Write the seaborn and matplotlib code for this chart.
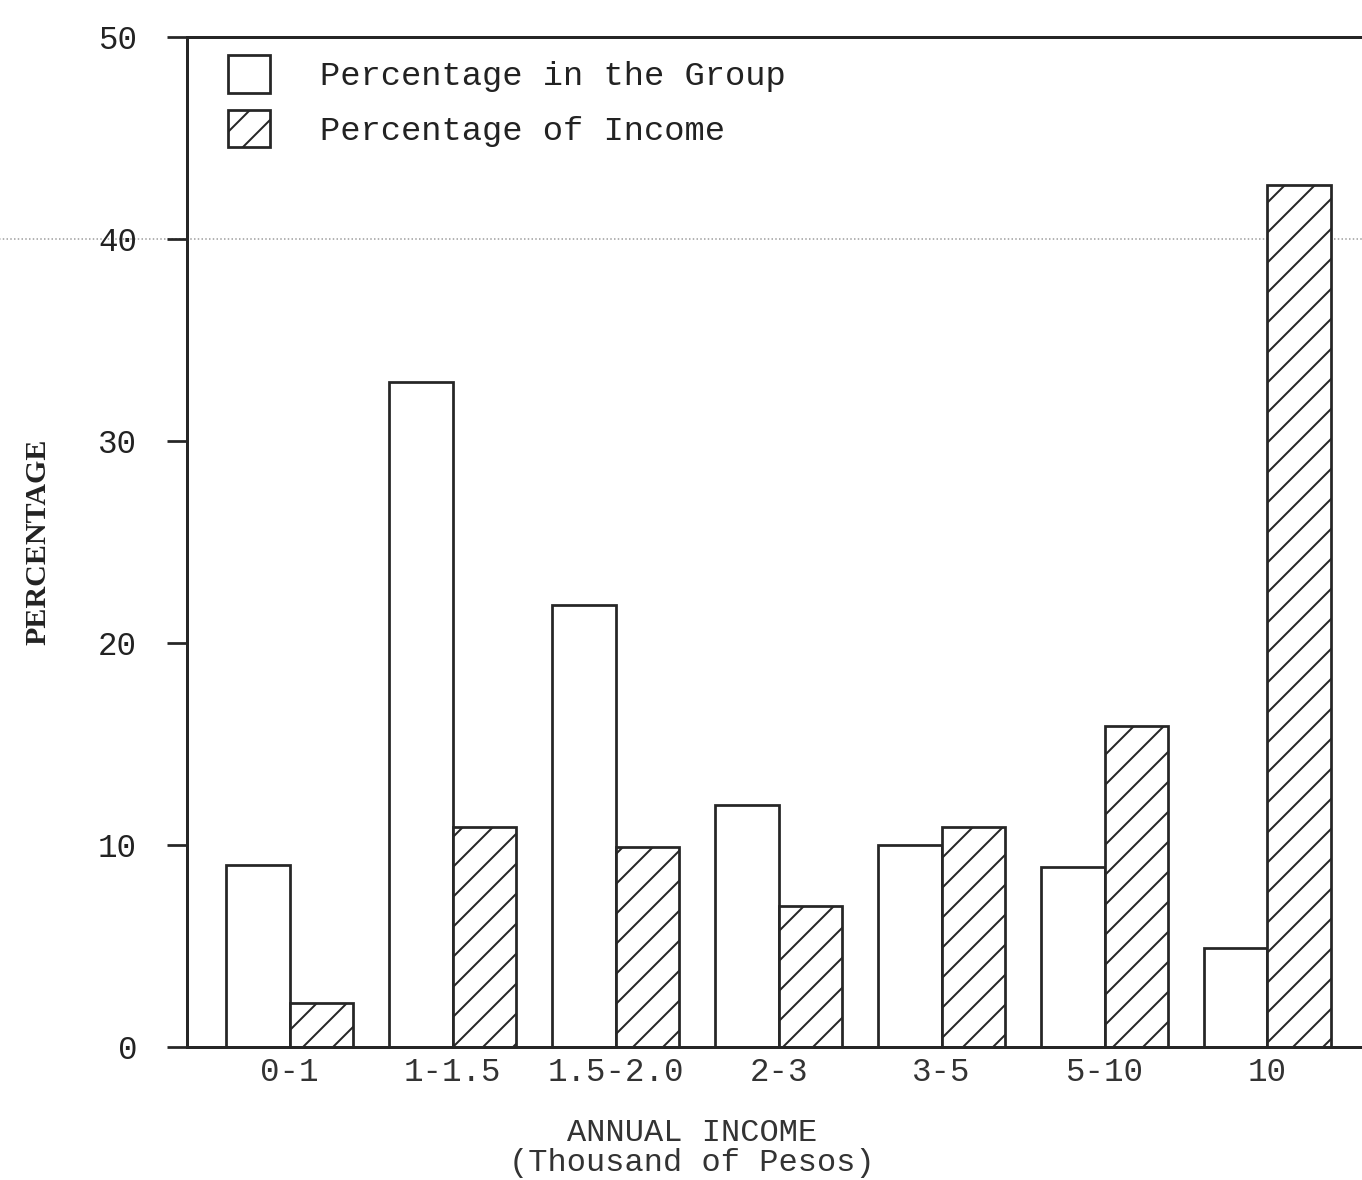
import matplotlib

matplotlib.use("Agg")

import matplotlib.pyplot as plt
import pandas as pd
import seaborn as sns
from matplotlib.patches import Patch

# ---- data -----------------------------------------------------------------
income_groups = ["0-1", "1-1.5", "1.5-2.0", "2-3", "3-5", "5-10", "10"]
pct_in_group = [9.0, 32.9, 21.9, 12.0, 10.0, 8.9, 4.9]
pct_of_income = [2.2, 10.9, 9.9, 7.0, 10.9, 15.9, 42.7]
series_names = ["Percentage in the Group", "Percentage of Income"]
y_ticks = [0, 10, 20, 30, 40, 50]

INK = "#262626"
MONO = "Liberation Mono"
DPI = 180  # hatch tile is one inch, so dpi sets the hatch spacing

sns.set_theme(style="white")
plt.rcParams["hatch.linewidth"] = 0.8
plt.rcParams["hatch.color"] = INK
plt.rcParams["font.family"] = [MONO, "DejaVu Sans"]

long = pd.DataFrame(
    {
        "group": income_groups * 2,
        "pct": pct_in_group + pct_of_income,
        "series": [series_names[0]] * len(income_groups) + [series_names[1]] * len(income_groups),
    }
)

fig = plt.figure(figsize=(1362 / DPI, 1180 / DPI), dpi=DPI)
ax = fig.add_axes([0.1373, 0.1127, 0.8627, 0.8559])

sns.barplot(
    data=long,
    x="group",
    y="pct",
    hue="series",
    hue_order=series_names,
    order=income_groups,
    width=0.78,
    errorbar=None,
    ax=ax,
    legend=False,
)

# white bars for the first series, diagonal hatch for the second
for container, hatch in zip(ax.containers, ["", "//"]):
    for bar in container:
        bar.set_facecolor("white")
        bar.set_edgecolor(INK)
        bar.set_linewidth(1.1)
        bar.set_hatch(hatch)

ax.set_xlim(-0.63, 6.58)
ax.set_ylim(0, 50)
ax.set_yticks(y_ticks)
ax.set_yticklabels([str(t) for t in y_ticks], fontsize=13, color="#222")
ax.tick_params(axis="y", direction="out", length=8, width=1.1, color=INK, pad=12, left=True)
ax.tick_params(axis="x", length=0, pad=4, labelsize=13, labelcolor="#333")

for side in ["left", "bottom", "top"]:
    ax.spines[side].set_visible(True)
    ax.spines[side].set_color(INK)
    ax.spines[side].set_linewidth(1.2)
ax.spines["right"].set_visible(False)

# faint dotted scan line at the 40 level running the full page width
ax.axhline(40, xmin=-0.16, xmax=1.0, color="#9a9a9a", linestyle=(0, (1, 1.5)),
           linewidth=0.6, clip_on=False, zorder=0.5)

ax.set_xlabel("ANNUAL INCOME\n(Thousand of Pesos)", fontsize=12.8, color="#333",
              linespacing=1.0)
ax.xaxis.set_label_coords(0.43, -0.07)
ax.set_ylabel("PERCENTAGE", fontsize=12, fontweight="bold",
              family=["Liberation Serif", "DejaVu Serif"], color="#222")
ax.yaxis.set_label_coords(-0.115, 0.5)

handles = [
    Patch(facecolor="white", edgecolor=INK, linewidth=1.1, label=series_names[0]),
    Patch(facecolor="white", edgecolor=INK, linewidth=1.1, hatch="//", label=series_names[1]),
]
ax.legend(
    handles=handles,
    loc="upper left",
    bbox_to_anchor=(0.035, 0.982),
    frameon=False,
    fontsize=13.5,
    borderpad=0,
    borderaxespad=0,
    handlelength=1.25,
    handleheight=1.33,
    handletextpad=1.48,
    labelspacing=0.5,
    labelcolor="#222",
)

fig.savefig("out.png", dpi=DPI)
plt.close(fig)
